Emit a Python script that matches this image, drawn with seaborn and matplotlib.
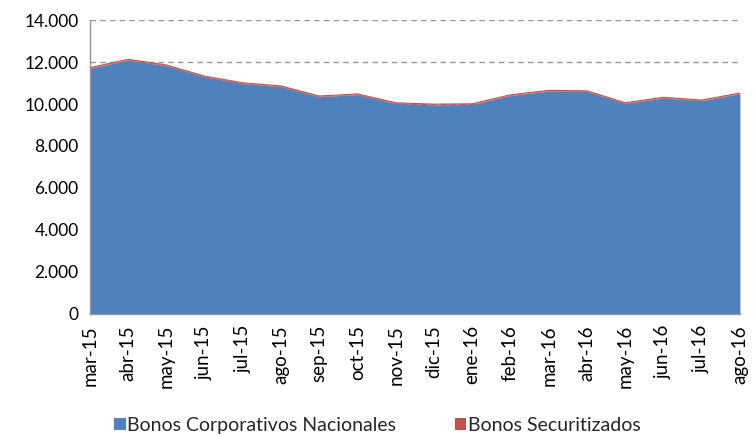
import matplotlib
matplotlib.use("Agg")
import matplotlib.pyplot as plt
from matplotlib.patches import Patch
from matplotlib.ticker import FuncFormatter
import numpy as np
import pandas as pd
import seaborn as sns

meses = ['mar-15', 'abr-15', 'may-15', 'jun-15', 'jul-15', 'ago-15', 'sep-15', 'oct-15', 'nov-15',
         'dic-15', 'ene-16', 'feb-16', 'mar-16', 'abr-16', 'may-16', 'jun-16', 'jul-16', 'ago-16']
corporativos = [11700, 12100, 11830, 11300, 10980, 10830, 10350, 10450, 10030,
                9960, 9980, 10410, 10620, 10600, 10030, 10290, 10160, 10490]
securitizados = [30, 30, 30, 30, 30, 30, 30, 30, 30,
                 30, 30, 30, 30, 30, 30, 30, 30, 30]

df = pd.DataFrame({'mes': meses, 'corp': corporativos, 'secu': securitizados})
df['total'] = df['corp'] + df['secu']
df['x'] = np.arange(len(df))

sns.set_style("white")
plt.rcParams['font.family'] = ['Lato', 'DejaVu Sans']

azul = '#4F81BD'
rojo = '#C0504D'
gris = '#969696'

fig = plt.figure(figsize=(7.55, 4.36), dpi=100)
ax = fig.add_axes([0.119, 0.280, 0.861, 0.674])

ax.stackplot(df['x'], df['corp'], df['secu'], colors=[azul, rojo], linewidth=0, zorder=2)
sns.lineplot(data=df, x='x', y='total', color=rojo, linewidth=0.8, ax=ax, zorder=3)

ax.set_ylim(0, 14000)
ax.set_xlim(0, len(df) - 1)
ax.set_yticks(range(0, 14001, 2000))
ax.yaxis.set_major_formatter(FuncFormatter(lambda v, p: f'{int(v):,}'.replace(',', '.')))
ax.set_xticks(df['x'])
ax.set_xticklabels(df['mes'], rotation=90)
ax.set_xlabel('')
ax.set_ylabel('')

ax.grid(axis='y', color=gris, linestyle=(0, (4, 3)), linewidth=1.0, zorder=0)
ax.set_axisbelow(True)
for s in ['top', 'right']:
    ax.spines[s].set_visible(False)
for s in ['left', 'bottom']:
    ax.spines[s].set_color(gris)
    ax.spines[s].set_linewidth(1.0)
ax.tick_params(axis='both', which='major', direction='out', length=5, width=1,
               color=gris, labelsize=12.5, labelcolor='black', pad=3)
ax.tick_params(axis='x', labelsize=13.5)

handles = [Patch(facecolor=azul, edgecolor='none', label='Bonos Corporativos Nacionales'),
           Patch(facecolor=rojo, edgecolor='none', label='Bonos Securitizados')]
fig.legend(handles=handles, loc='center', bbox_to_anchor=(0.5, 0.025), ncol=2, frameon=False,
           fontsize=14, handlelength=0.6, handleheight=0.6, handletextpad=0.1, columnspacing=3.0)

fig.savefig('out.png', dpi=100)
